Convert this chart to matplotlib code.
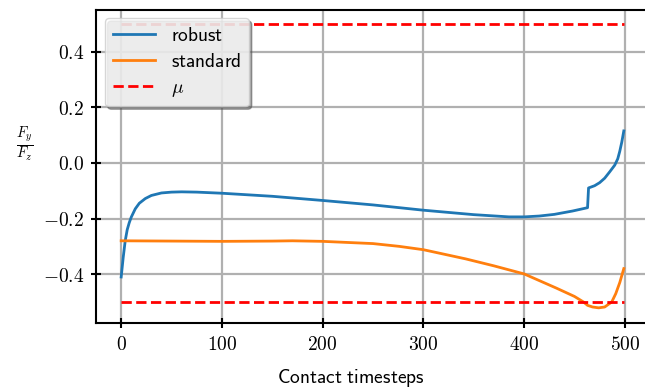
import numpy as np
import matplotlib
matplotlib.use('Agg')
import matplotlib.pyplot as plt
from matplotlib.ticker import FuncFormatter

plt.rcParams['mathtext.fontset'] = 'cm'

# robust controller: friction ratio over contact timesteps
robust_t = [0, 2, 4, 6, 8, 10, 14, 18, 24, 30, 40, 50, 60, 75, 100, 150, 200, 250,
            300, 350, 385, 400, 415, 430, 448, 463, 464, 470, 475, 480, 485, 490,
            493, 495, 497, 499]
robust_v = [-0.41, -0.34, -0.28, -0.24, -0.215, -0.195, -0.165, -0.145, -0.128, -0.117,
            -0.108, -0.105, -0.104, -0.105, -0.109, -0.12, -0.135, -0.151,
            -0.17, -0.186, -0.194, -0.194, -0.191, -0.185, -0.173, -0.161, -0.09,
            -0.082, -0.071, -0.055, -0.032, -0.008, 0.015, 0.042, 0.075, 0.115]

# standard controller
standard_t = [0, 50, 100, 150, 170, 200, 250, 276, 300, 342, 370, 400, 432, 450,
              459, 463, 468, 474, 480, 487, 491, 495, 499]
standard_v = [-0.28, -0.281, -0.282, -0.281, -0.280, -0.282, -0.29, -0.30, -0.312,
              -0.345, -0.37, -0.399, -0.45, -0.48, -0.50, -0.512, -0.518, -0.521,
              -0.518, -0.50, -0.47, -0.43, -0.38]

mu = 0.5
mu_t = [0, 499]

fig = plt.figure(figsize=(6.45, 3.91), dpi=100)
ax = fig.add_axes([96/645, 1 - 323/391, 554/645, 313.5/391])

ax.plot(robust_t, robust_v, color='C0', lw=2, label=r'$\mathsf{robust}$')
ax.plot(standard_t, standard_v, color='C1', lw=2, label=r'$\mathsf{standard}$')
ax.plot(mu_t, [mu, mu], 'r--', lw=2, label=r'$\mu$')
ax.plot(mu_t, [-mu, -mu], 'r--', lw=2)

ax.set_xlim(-25, 525)
ax.set_ylim(-0.5755, 0.5515)
ax.set_yticks([-0.4, -0.2, 0.0, 0.2, 0.4])
ax.set_xticks([0, 100, 200, 300, 400, 500])
ax.xaxis.set_major_formatter(FuncFormatter(lambda v, p: '$%d$' % v))
ax.yaxis.set_major_formatter(FuncFormatter(lambda v, p: '$%.1f$' % v))
ax.tick_params(direction='inout', length=7, width=1.5, labelsize=14, colors='black', pad=5)

for s in ax.spines.values():
    s.set_linewidth(1.5)
    s.set_color('black')
ax.spines['right'].set_visible(False)

ax.grid(True, color='#b0b0b0', lw=1.6)
ax.set_axisbelow(True)

ax.set_xlabel(r'$\mathsf{Contact\ timesteps}$', fontsize=14)
ax.xaxis.set_label_coords(0.46, -0.14)
ax.set_ylabel(r'$\frac{F_y}{F_z}$', rotation=0, fontsize=15, va='center', ha='center')
ax.yaxis.set_label_coords(-0.128, 0.57)

leg = ax.legend(loc='upper left', shadow=True, fontsize=14, framealpha=0.8,
                labelspacing=0.35, handlelength=2.2, borderaxespad=0.45)

plt.savefig('out.png', dpi=100)
